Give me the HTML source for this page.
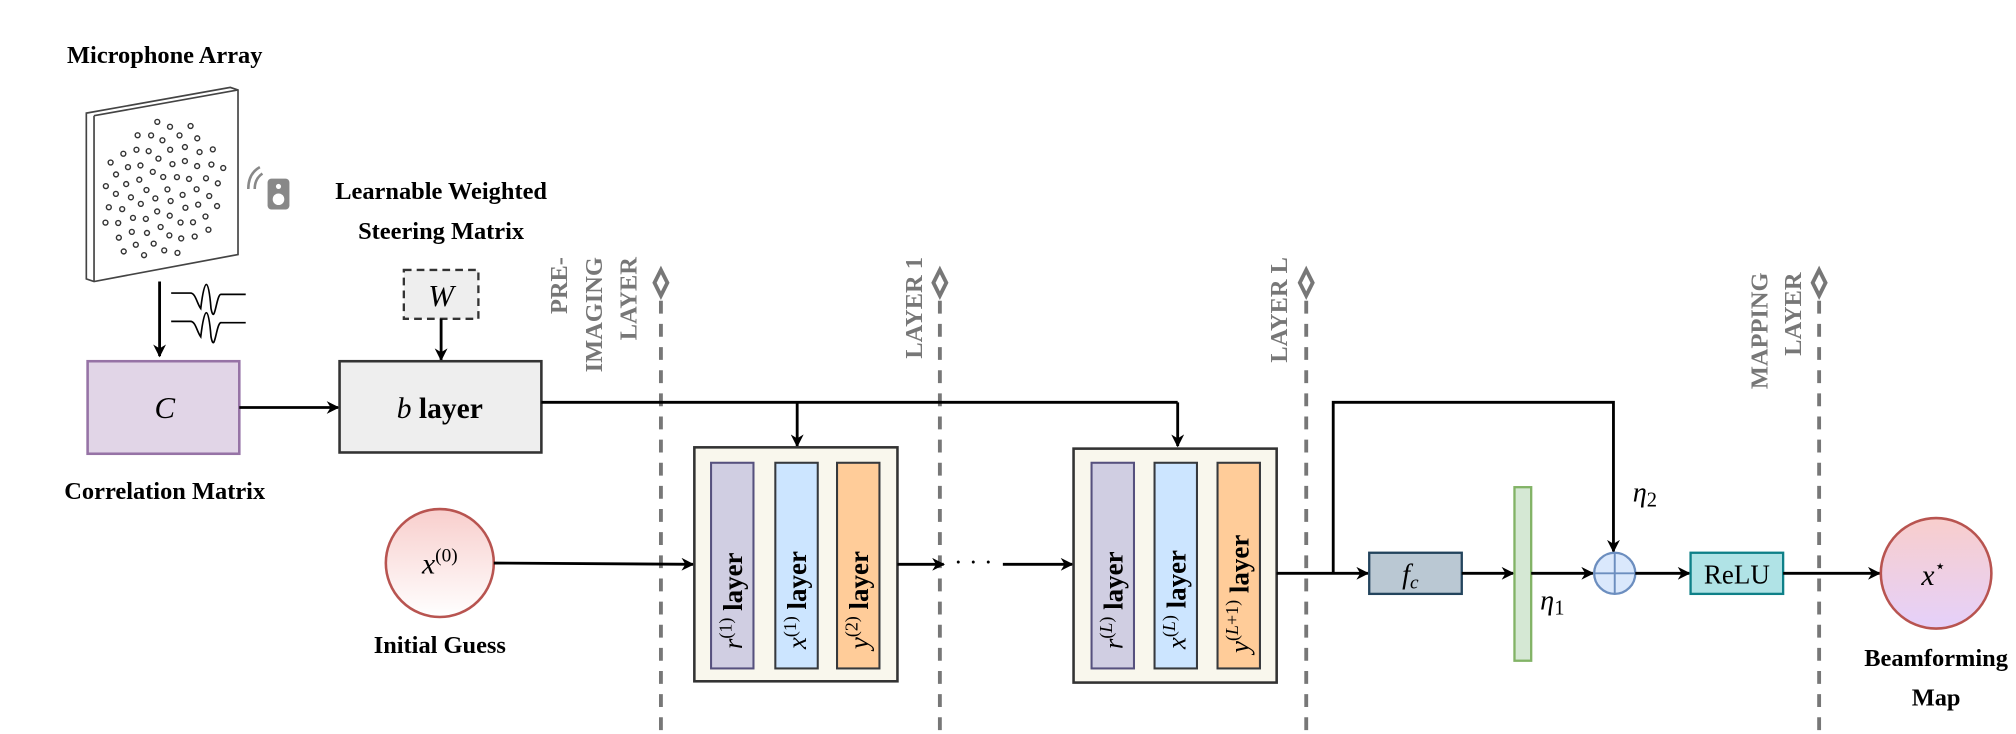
<!DOCTYPE html>
<html><head><meta charset="utf-8"><style>
html,body{margin:0;padding:0;background:#fff;}
svg{display:block;font-family:"Liberation Serif","DejaVu Serif",serif;}
svg text, svg tspan{font-family:"Liberation Serif","DejaVu Serif",serif;}
.b{font-weight:bold;font-size:19px;fill:#000;}
.g{font-weight:bold;font-size:19px;fill:#777;}
.m{font-style:italic;font-size:24px;}
</style></head><body>
<svg id="s" width="2016" height="734" viewBox="0 0 1568 571" xmlns="http://www.w3.org/2000/svg" font-family="Liberation Serif, DejaVu Serif, serif">
<defs>
<marker id="a" markerWidth="10" markerHeight="10" refX="9" refY="5" orient="auto" markerUnits="userSpaceOnUse"><path d="M0,0 L10,5 L0,10 L3,5 z" fill="#000"/></marker>
<linearGradient id="g1" x1="0" y1="0" x2="0" y2="1"><stop offset="0" stop-color="#f8cecc"/><stop offset="1" stop-color="#fff"/></linearGradient>
<linearGradient id="g2" x1="0" y1="0" x2="0" y2="1"><stop offset="0" stop-color="#f8cecc"/><stop offset="1" stop-color="#e5d0fa"/></linearGradient>
</defs>
<g stroke="#777" stroke-width="3" fill="none">
<line x1="514" y1="234" x2="514" y2="571" stroke-dasharray="10,8"/>
<line x1="731" y1="234" x2="731" y2="571" stroke-dasharray="10,8"/>
<line x1="1016" y1="234" x2="1016" y2="571" stroke-dasharray="10,8"/>
<line x1="1415" y1="234" x2="1415" y2="571" stroke-dasharray="10,8"/>
<path d="M514,210 l5,10 l-5,10 l-5,-10 z"/><path d="M731,210 l5,10 l-5,10 l-5,-10 z"/>
<path d="M1016,210 l5,10 l-5,10 l-5,-10 z"/><path d="M1415,210 l5,10 l-5,10 l-5,-10 z"/>
</g>
<g class="g" text-anchor="end">
<text class="g" font-family="Liberation Serif, serif" transform="translate(441,200) rotate(-90)">PRE-</text>
<text class="g" font-family="Liberation Serif, serif" transform="translate(468,200) rotate(-90)">IMAGING</text>
<text class="g" font-family="Liberation Serif, serif" transform="translate(495,200) rotate(-90)">LAYER</text>
<text class="g" font-family="Liberation Serif, serif" transform="translate(717,200) rotate(-90)">LAYER 1</text>
<text class="g" font-family="Liberation Serif, serif" transform="translate(1001,200) rotate(-90)">LAYER L</text>
<text class="g" font-family="Liberation Serif, serif" transform="translate(1375,212) rotate(-90)">MAPPING</text>
<text class="g" font-family="Liberation Serif, serif" transform="translate(1401,212) rotate(-90)">LAYER</text>
</g>
<text class="b" font-family="Liberation Serif, serif" x="128" y="49" text-anchor="middle">Microphone Array</text>
<path d="M67,88 L179,68 L185,70 L185,198 L73,219 L67,217 z" fill="#fff" stroke="#444" stroke-width="1.3"/>
<path d="M73,90 L185,70 M73,90 L73,219" stroke="#444" stroke-width="1.3" fill="none"/>
<g id="dots" fill="none" stroke="#333" stroke-width="1.1"></g>
<g fill="#888"><rect x="208" y="139" width="17" height="24" rx="3"/><circle cx="216.5" cy="155" r="4.5" fill="#fff"/><circle cx="216.5" cy="145" r="2" fill="#fff"/></g>
<path d="M198,147 q0,-8 6,-12 M193,147 q0,-12 9,-17" stroke="#888" stroke-width="2" fill="none"/>
<line x1="124" y1="219" x2="124" y2="277" stroke="#000" stroke-width="2.2" marker-end="url(#a)"/>
<path d="M133,228 h15 c4,0 5,8 8,12 c3,-25 6,-25 8,0 c3,15 4,-12 8,-11 h19 M133,250 h15 c4,0 5,8 8,12 c3,-25 6,-25 8,0 c3,15 4,-12 8,-11 h19" stroke="#000" stroke-width="1.3" fill="none"/>
<rect x="68" y="281" width="118" height="72" fill="#e1d5e7" stroke="#9673a6" stroke-width="2"/>
<text class="m" font-family="Liberation Serif, serif" x="128" y="325" text-anchor="middle">C</text>
<text class="b" font-family="Liberation Serif, serif" x="128" y="388" text-anchor="middle">Correlation Matrix</text>
<line x1="186" y1="317" x2="263" y2="317" stroke="#000" stroke-width="2.2" marker-end="url(#a)"/>
<text class="b" font-family="Liberation Serif, serif" x="343" y="155" text-anchor="middle">Learnable Weighted</text>
<text class="b" font-family="Liberation Serif, serif" x="343" y="186" text-anchor="middle">Steering Matrix</text>
<rect x="314" y="210" width="58" height="38" fill="#eee" stroke="#333" stroke-width="1.8" stroke-dasharray="6,4"/>
<text class="m" font-family="Liberation Serif, serif" x="343" y="238" text-anchor="middle">W</text>
<line x1="343" y1="248" x2="343" y2="280" stroke="#000" stroke-width="2.2" marker-end="url(#a)"/>
<rect x="264" y="281" width="157" height="71" fill="#eee" stroke="#333" stroke-width="2"/>
<text font-family="Liberation Serif, serif" x="342" y="325" text-anchor="middle" font-size="23"><tspan font-style="italic">b</tspan> <tspan font-weight="bold">layer</tspan></text>
<path d="M421,313 H916" stroke="#000" stroke-width="2.2" fill="none"/>
<line x1="620" y1="313" x2="620" y2="347" stroke="#000" stroke-width="2.2" marker-end="url(#a)"/>
<line x1="916" y1="313" x2="916" y2="347" stroke="#000" stroke-width="2.2" marker-end="url(#a)"/>
<circle cx="342" cy="438" r="42" fill="url(#g1)" stroke="#b85450" stroke-width="2"/>
<text font-family="Liberation Serif, serif" x="342" y="446" text-anchor="middle" font-size="23"><tspan font-style="italic">x</tspan><tspan font-size="15" dy="-9">(0)</tspan></text>
<text class="b" font-family="Liberation Serif, serif" x="342" y="508" text-anchor="middle">Initial Guess</text>
<line x1="384" y1="438" x2="539" y2="439" stroke="#000" stroke-width="2.2" marker-end="url(#a)"/>
<rect x="540" y="348" width="158" height="182" fill="#f9f7ed" stroke="#333" stroke-width="2"/>
<rect x="553" y="360" width="33" height="160" fill="#d0cee2" stroke="#56517e" stroke-width="1.6"/>
<rect x="603" y="360" width="33" height="160" fill="#cce5ff" stroke="#36393d" stroke-width="1.6"/>
<rect x="651" y="360" width="33" height="160" fill="#ffcc99" stroke="#36393d" stroke-width="1.6"/>
<line x1="698" y1="439" x2="734" y2="439" stroke="#000" stroke-width="2.2" marker-end="url(#a)"/>
<text font-family="Liberation Serif, serif" x="742" y="444" font-size="20">· · ·</text>
<line x1="780" y1="439" x2="834" y2="439" stroke="#000" stroke-width="2.2" marker-end="url(#a)"/>
<rect x="835" y="349" width="158" height="182" fill="#f9f7ed" stroke="#333" stroke-width="2"/>
<rect x="849" y="360" width="33" height="160" fill="#d0cee2" stroke="#56517e" stroke-width="1.6"/>
<rect x="898" y="360" width="33" height="160" fill="#cce5ff" stroke="#36393d" stroke-width="1.6"/>
<rect x="947" y="360" width="33" height="160" fill="#ffcc99" stroke="#36393d" stroke-width="1.6"/>
<g font-size="21" font-weight="bold" font-family="Liberation Serif, serif">
<text transform="translate(577,505) rotate(-90)"><tspan font-style="italic" font-weight="normal">r</tspan><tspan font-size="14" font-weight="normal" dy="-8">(1)</tspan><tspan dy="8"> layer</tspan></text>
<text transform="translate(627,505) rotate(-90)"><tspan font-style="italic" font-weight="normal">x</tspan><tspan font-size="14" font-weight="normal" dy="-8">(1)</tspan><tspan dy="8"> layer</tspan></text>
<text transform="translate(675,505) rotate(-90)"><tspan font-style="italic" font-weight="normal">y</tspan><tspan font-size="14" font-weight="normal" dy="-8">(2)</tspan><tspan dy="8"> layer</tspan></text>
<text transform="translate(873,505) rotate(-90)"><tspan font-style="italic" font-weight="normal">r</tspan><tspan font-size="14" font-weight="normal" dy="-8">(<tspan font-style="italic">L</tspan>)</tspan><tspan dy="8"> layer</tspan></text>
<text transform="translate(922,505) rotate(-90)"><tspan font-style="italic" font-weight="normal">x</tspan><tspan font-size="14" font-weight="normal" dy="-8">(<tspan font-style="italic">L</tspan>)</tspan><tspan dy="8"> layer</tspan></text>
<text transform="translate(971,508) rotate(-90)"><tspan font-style="italic" font-weight="normal">y</tspan><tspan font-size="14" font-weight="normal" dy="-8">(<tspan font-style="italic">L</tspan>+1)</tspan><tspan dy="8"> layer</tspan></text>
</g>
<path d="M993,446 H1064" stroke="#000" stroke-width="2.2" fill="none" marker-end="url(#a)"/>
<path d="M1037,446 V313 H1255 V429" stroke="#000" stroke-width="2.2" fill="none" marker-end="url(#a)"/>
<rect x="1065" y="430" width="72" height="32" fill="#bac8d3" stroke="#23445d" stroke-width="1.8"/>
<text font-family="Liberation Serif, serif" x="1097" y="454" text-anchor="middle" font-size="22" font-style="italic">f<tspan font-size="15" dy="4">c</tspan></text>
<line x1="1137" y1="446" x2="1177" y2="446" stroke="#000" stroke-width="2.2" marker-end="url(#a)"/>
<rect x="1178" y="379" width="13" height="135" fill="#d5e8d4" stroke="#82b366" stroke-width="1.8"/>
<line x1="1191" y1="446" x2="1239" y2="446" stroke="#000" stroke-width="2.2" marker-end="url(#a)"/>
<text font-family="Liberation Serif, serif" x="1198" y="474" font-size="22" font-style="italic">η<tspan font-style="normal" font-size="16" dy="4">1</tspan></text>
<text font-family="Liberation Serif, serif" x="1270" y="390" font-size="22" font-style="italic">η<tspan font-style="normal" font-size="16" dy="4">2</tspan></text>
<circle cx="1256" cy="446" r="16" fill="#dae8fc" stroke="#6c8ebf" stroke-width="1.8"/>
<path d="M1240,446 H1272 M1256,430 V462" stroke="#6c8ebf" stroke-width="1.5"/>
<line x1="1272" y1="446" x2="1314" y2="446" stroke="#000" stroke-width="2.2" marker-end="url(#a)"/>
<rect x="1315" y="430" width="72" height="32" fill="#b0e3e6" stroke="#0e8088" stroke-width="1.8"/>
<text font-family="Liberation Serif, serif" x="1351" y="454" text-anchor="middle" font-size="21">ReLU</text>
<line x1="1387" y1="446" x2="1462" y2="446" stroke="#000" stroke-width="2.2" marker-end="url(#a)"/>
<circle cx="1506" cy="446" r="43" fill="url(#g2)" stroke="#b85450" stroke-width="2"/>
<text font-family="Liberation Serif, serif" x="1504" y="455" text-anchor="middle" font-size="23" font-style="italic">x<tspan font-style="normal" font-size="14" dy="-10">⋆</tspan></text>
<text class="b" font-family="Liberation Serif, serif" x="1506" y="518" text-anchor="middle">Beamforming</text>
<text class="b" font-family="Liberation Serif, serif" x="1506" y="549" text-anchor="middle">Map</text>
</svg>
<script>
var g=document.getElementById('dots'),ns="http://www.w3.org/2000/svg";
for(var i=0;i<72;i++){var r=Math.sqrt((i+0.5)/72)*52,t=i*2.39996;
var x=126+r*Math.cos(t)*0.95,y=148+r*Math.sin(t)*1.05-(x-126)*0.18;
var c=document.createElementNS(ns,'circle');c.setAttribute('cx',x.toFixed(1));c.setAttribute('cy',y.toFixed(1));c.setAttribute('r','1.9');g.appendChild(c);}
</script>
</body></html>
